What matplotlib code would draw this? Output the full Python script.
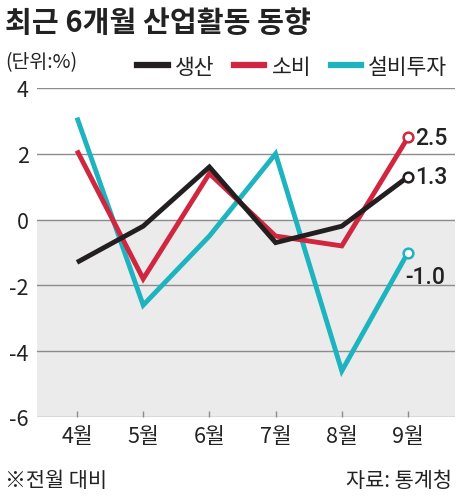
import numpy as np
import matplotlib
matplotlib.use('Agg')
import matplotlib.pyplot as plt
from matplotlib.lines import Line2D

plt.rcParams['font.family'] = ['Noto Sans CJK KR', 'DejaVu Sans']

# ---- data ----
months = ['4월', '5월', '6월', '7월', '8월', '9월']
production = [-1.3, -0.2, 1.6, -0.7, -0.2, 1.3]   # 생산
consumption = [2.1, -1.8, 1.4, -0.5, -0.8, 2.5]   # 소비
investment = [3.1, -2.6, -0.5, 2.0, -4.6, -1.0]   # 설비투자
yticks = [4, 2, 0, -2, -4, -6]

c_prod = '#231f20'
c_cons = '#d0263f'
c_inv = '#1db3bf'
txt = '#222222'

fig = plt.figure(figsize=(4.65, 5.02), dpi=100)
ax = fig.add_axes([37 / 465, 1 - 418 / 502, 418 / 465, 329 / 502])

x = np.arange(len(months))
ax.set_xlim(-0.604, 5.71)
ax.set_ylim(-6, 4)

# background below zero + grid
ax.axhspan(-6, 0, color='#ebebeb', zorder=0)
for yv in yticks:
    ax.axhline(yv, color='#8c8c8c', lw=1.0, zorder=1)

series = [(investment, c_inv), (consumption, c_cons), (production, c_prod)]
for i, (vals, col) in enumerate(series):
    ax.plot(x, vals, color=col, lw=3.5, solid_joinstyle='miter',
            solid_capstyle='butt', zorder=3 + i)
    ax.plot(x[-1], vals[-1], 'o', ms=7, mfc='white', mec=col, mew=1.8,
            zorder=6 + i, clip_on=False)

# end value labels
lab = dict(textcoords='offset points', va='center', ha='left', fontsize=16.5,
           color=txt, fontweight='medium', family=['Roboto', 'DejaVu Sans'])
ax.annotate(f'{consumption[-1]:.1f}', (x[-1], consumption[-1]),
            xytext=(5, 0), **lab)
ax.annotate(f'{production[-1]:.1f}', (x[-1], production[-1]),
            xytext=(5, 0), **lab)
ax.annotate(f'{investment[-1]:.1f}', (x[-1], investment[-1]),
            xytext=(-2, -17), **lab)

for s in ax.spines.values():
    s.set_visible(False)
ax.set_yticks(yticks)
ax.set_yticklabels([str(v) for v in yticks])
ax.tick_params(axis='y', length=0, pad=6, labelsize=15.5, labelcolor=txt)
ax.set_xticks(x)
ax.set_xticklabels(months)
ax.tick_params(axis='x', direction='in', length=4.5, width=1.0,
               color='#8c8c8c', pad=6, labelsize=15.5, labelcolor=txt)

# title, unit, legend, footer
fig.text(5 / 465, 1 - 23 / 502, '최근 6개월 산업활동 동향', fontsize=21,
         fontweight='bold', color=txt, va='center', ha='left')
fig.text(5 / 465, 1 - 63 / 502, '(단위:%)', fontsize=14, color=txt,
         va='center', ha='left')
handles = [Line2D([], [], color=c_prod, lw=4.5),
           Line2D([], [], color=c_cons, lw=4.5),
           Line2D([], [], color=c_inv, lw=4.5)]
fig.legend(handles, ['생산', '소비', '설비투자'], loc='center right',
           bbox_to_anchor=(458 / 465, 1 - 68 / 502), ncol=3, frameon=False,
           fontsize=15.5, handlelength=1.4, handletextpad=0.35,
           columnspacing=0.9, borderpad=0, labelcolor=txt)
fig.text(5 / 465, 1 - 481 / 502, '※전월 대비', fontsize=15, color=txt,
         va='center', ha='left')
fig.text(452 / 465, 1 - 481 / 502, '자료: 통계청', fontsize=15, color=txt,
         va='center', ha='right')

fig.savefig('out.png', dpi=100)
